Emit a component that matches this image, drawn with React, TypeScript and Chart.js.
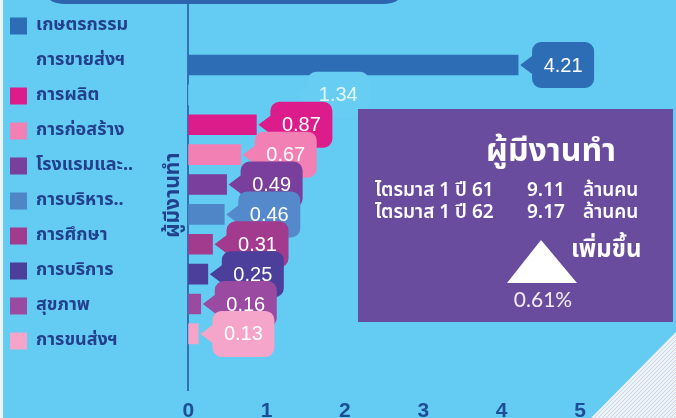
import React, { useEffect, useRef } from "react";
import { Chart, registerables } from "chart.js";

Chart.register(...registerables);

const categories = [
  "เกษตรกรรม",
  "การขายส่งฯ",
  "การผลิต",
  "การก่อสร้าง",
  "โรงแรมและ..",
  "การบริหาร..",
  "การศึกษา",
  "การบริการ",
  "สุขภาพ",
  "การขนส่งฯ",
];
const values = [4.21, 1.34, 0.87, 0.67, 0.49, 0.46, 0.31, 0.25, 0.16, 0.13];
const barColors = [
  "#2C6DB5",
  "#64CBF2",
  "#DD1C8C",
  "#F280B5",
  "#7A3E9C",
  "#4F86C8",
  "#A23A8E",
  "#4B3F9B",
  "#9A4AA0",
  "#F4A5C9",
];
const tagColors = [
  "#2C6DB5",
  "#68CDF3",
  "#DD1C8C",
  "#F280B5",
  "#7A3E9C",
  "#5489CB",
  "#A23A8E",
  "#4B3F9B",
  "#9A4AA0",
  "#F4A5C9",
];
const tagTextColors = ["#FFFFFF", "#E4F6FD", "#FFFFFF", "#FFFFFF", "#FFFFFF", "#FFFFFF", "#FFFFFF", "#FFFFFF", "#FFFFFF", "#FFFFFF"];
const xTicks = [0, 1, 2, 3, 4, 5];
const axisTitle = "ผู้มีงานทำ";
const boxTitle = "ผู้มีงานทำ";
const boxRows = [
  ["ไตรมาส 1 ปี 61", "9.11", "ล้านคน"],
  ["ไตรมาส 1 ปี 62", "9.17", "ล้านคน"],
];
const changeLabel = "เพิ่มขึ้น";
const changeValue = "0.61%";

const BG = "#64CBF2";
const NAVY = "#22408C";
const THAI = "Tahoma, 'Noto Sans Thai', 'Noto Sans', 'DejaVu Sans', sans-serif";
const NUM = "'Liberation Sans', Arial, sans-serif";

const backgroundPlugin = {
  id: "bg",
  beforeDraw(chart: any) {
    const { ctx, width, height } = chart;
    ctx.save();
    ctx.fillStyle = BG;
    ctx.fillRect(0, 0, width, height);
    ctx.restore();
  },
  afterDraw(chart: any) {
    const { ctx, width, height } = chart;
    ctx.save();
    ctx.fillStyle = "#2E63AE";
    ctx.beginPath();
    ctx.moveTo(50, 0);
    ctx.lineTo(398, 0);
    ctx.quadraticCurveTo(393, 4, 382, 4);
    ctx.lineTo(66, 4);
    ctx.quadraticCurveTo(55, 4, 50, 0);
    ctx.fill();
    ctx.fillStyle = "#EAF4FA";
    ctx.fillRect(0, 0, 3, height);
    ctx.beginPath();
    ctx.moveTo(width, 332);
    ctx.lineTo(width, height);
    ctx.lineTo(591, height);
    ctx.closePath();
    ctx.fillStyle = "#EDF2F7";
    ctx.fill();
    ctx.clip();
    ctx.strokeStyle = "#C9D7E6";
    ctx.lineWidth = 1;
    for (let k = -120; k < 120; k += 4) {
      ctx.beginPath();
      ctx.moveTo(590 + k, height);
      ctx.lineTo(690 + k, 318);
      ctx.stroke();
    }
    ctx.restore();

    ctx.save();
    ctx.fillStyle = "#6A4C9E";
    ctx.fillRect(358, 109, 315, 213);
    ctx.fillStyle = "#FFFFFF";
    ctx.textAlign = "center";
    ctx.textBaseline = "middle";
    ctx.font = `bold 32px ${THAI}`;
    ctx.fillText(boxTitle, 551, 155);
    ctx.font = `600 19px ${THAI}`;
    ctx.textAlign = "left";
    const rowY = [192, 214];
    boxRows.forEach((r, i) => {
      ctx.fillText(r[0], 375, rowY[i]);
      ctx.fillText(r[1], 527, rowY[i]);
      ctx.fillText(r[2], 583, rowY[i]);
    });
    ctx.font = `bold 24px ${THAI}`;
    ctx.fillText(changeLabel, 571, 252);
    ctx.beginPath();
    ctx.moveTo(541, 240);
    ctx.lineTo(577, 283);
    ctx.lineTo(507, 283);
    ctx.closePath();
    ctx.fill();
    ctx.textAlign = "center";
    ctx.fillStyle = "#F4ECF6";
    ctx.font = `21px Lato, ${NUM}`;
    ctx.fillText(changeValue, 543, 300);
    ctx.restore();
  },
};

const tagPlugin = {
  id: "tags",
  afterDatasetsDraw(chart: any) {
    const meta = chart.getDatasetMeta(0);
    const ctx = chart.ctx;
    ctx.save();
    meta.data.forEach((bar: any, i: number) => {
      const tipX = bar.x + 2;
      const cy = bar.y;
      const pw = 12, bw = 62, h = 46, r = 9, ph = 18;
      const left = tipX + pw, right = left + bw, top = cy - h / 2, bottom = cy + h / 2;
      ctx.beginPath();
      ctx.moveTo(tipX, cy);
      ctx.lineTo(left, cy - ph / 2);
      ctx.lineTo(left, top + r);
      ctx.arcTo(left, top, left + r, top, r);
      ctx.lineTo(right - r, top);
      ctx.arcTo(right, top, right, top + r, r);
      ctx.lineTo(right, bottom - r);
      ctx.arcTo(right, bottom, right - r, bottom, r);
      ctx.lineTo(left + r, bottom);
      ctx.arcTo(left, bottom, left, bottom - r, r);
      ctx.lineTo(left, cy + ph / 2);
      ctx.closePath();
      ctx.fillStyle = tagColors[i];
      ctx.fill();
      ctx.fillStyle = tagTextColors[i];
      ctx.font = `20px ${NUM}`;
      ctx.textAlign = "center";
      ctx.textBaseline = "middle";
      ctx.fillText(values[i].toFixed(2), left + bw / 2, cy + 1);
    });
    ctx.restore();
  },
};

export default function App() {
  const ref = useRef<HTMLCanvasElement>(null);
  useEffect(() => {
    if (!ref.current) return;
    const chart = new Chart(ref.current, {
      type: "bar",
      data: {
        labels: categories,
        datasets: [
          {
            label: axisTitle,
            data: values.map((v, i) => ({ x: v, y: i })) as any,
            backgroundColor: barColors,
            borderWidth: 0,
            barThickness: 20,
          },
        ],
      },
      options: {
        indexAxis: "y",
        responsive: false,
        animation: false,
        layout: { padding: { left: -7, top: 0, right: 96, bottom: -13.6 } },
        plugins: {
          tooltip: { enabled: false },
          legend: {
            position: "left",
            align: "start",
            maxWidth: 155,
            labels: {
              boxWidth: 17,
              boxHeight: 17,
              padding: 17,
              color: NAVY,
              font: { family: THAI, size: 18, weight: "bold" },
              generateLabels: () =>
                categories.map((c, i) => ({
                  text: c,
                  fillStyle: barColors[i],
                  strokeStyle: barColors[i],
                  lineWidth: 0,
                  hidden: false,
                  index: i,
                  datasetIndex: 0,
                  fontColor: NAVY,
                })) as any,
            },
            onClick: () => {},
          },
        },
        scales: {
          x: {
            type: "linear",
            min: 0,
            max: 5,
            afterBuildTicks: (scale: any) => {
              scale.ticks = xTicks.map((v) => ({ value: v }));
            },
            grid: { display: false, drawTicks: false },
            border: { display: false },
            ticks: {
              padding: 8,
              color: "#1E4F96",
              font: { family: NUM, size: 21, weight: "bold" },
            },
          },
          y: {
            type: "linear",
            reverse: true,
            offset: false,
            bounds: "data",
            min: -2.175,
            max: 10.89,
            afterFit: (scale: any) => {
              scale.width = 45;
            },
            grid: { display: false, drawTicks: false, offset: false },
            border: { display: true, color: "rgba(40,90,160,0.8)", width: 2, dash: [5, 3] },
            ticks: { display: false },
            title: {
              display: true,
              text: axisTitle,
              color: NAVY,
              font: { family: THAI, size: 21, weight: "bold" },
              padding: { top: 19.4, bottom: 0 },
            },
          },
        },
      },
      plugins: [backgroundPlugin, tagPlugin],
    });
    return () => chart.destroy();
  }, []);
  return (
    <canvas
      ref={ref}
      width={676}
      height={418}
      style={{ position: "fixed", left: 0, top: 0, display: "block", width: 676, height: 418 }}
    />
  );
}
